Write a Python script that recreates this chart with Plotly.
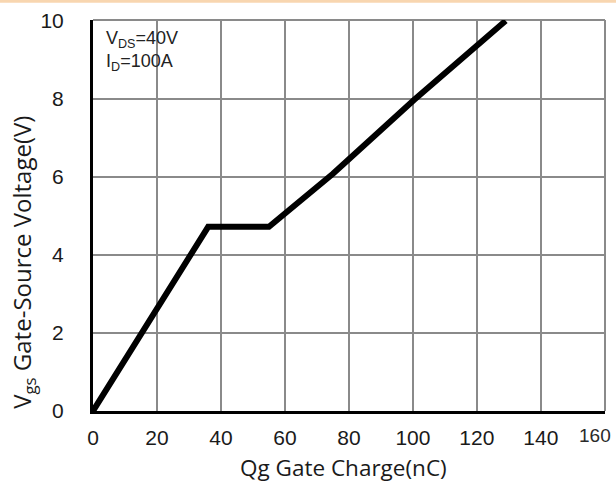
import plotly.graph_objects as go

# Data
qg_nc = [0, 36, 55, 75, 100.5, 129]
vgs_v = [0, 4.72, 4.72, 6.08, 7.98, 10.0]

x_ticks = [0, 20, 40, 60, 80, 100, 120, 140, 160]
y_ticks = [0, 2, 4, 6, 8, 10]

x_title = "Qg Gate Charge(nC)"
y_title = "V<sub>gs</sub> Gate-Source Voltage(V)"
cond_text = "V<sub>DS</sub>=40V<br>I<sub>D</sub>=100A"

fig = go.Figure()
fig.add_trace(go.Scatter(
    x=qg_nc, y=vgs_v, mode="lines",
    line=dict(color="black", width=6),
    showlegend=False, hoverinfo="skip",
))

grid_color = "#8a8a8a"
tick_font = dict(family="Liberation Sans", size=21, color="#1a1a1a")
last_tick_font = dict(family="Liberation Sans", size=19, color="#2a2a2a")

# last x tick label is placed by hand (reference shows it shifted left of the edge)
x_ticktext = [str(t) for t in x_ticks[:-1]] + [""]

fig.update_layout(
    width=616, height=497,
    margin=dict(l=93, r=11, t=20, b=86, autoexpand=False),
    paper_bgcolor="white", plot_bgcolor="white",
    xaxis=dict(
        range=[0, 160.05], tickvals=x_ticks, ticktext=x_ticktext,
        showgrid=True, gridcolor=grid_color, gridwidth=2,
        zeroline=False, showline=True, linecolor="black", linewidth=3,
        ticks="", tickfont=tick_font, ticklabelstandoff=6, automargin=False,
    ),
    yaxis=dict(
        range=[0, 10.02], tickvals=y_ticks, ticktext=[str(t) for t in y_ticks],
        showgrid=True, gridcolor=grid_color, gridwidth=2,
        zeroline=False, showline=True, linecolor="black", linewidth=3,
        ticks="", tickfont=tick_font, ticklabelstandoff=22, automargin=False,
    ),
    shapes=[
        dict(type="rect", xref="paper", yref="paper",
             x0=-0.2, x1=1.1, y0=1.044, y1=1.06,
             fillcolor="#F8D6B0", line=dict(width=0), layer="above"),
        dict(type="line", xref="paper", yref="paper", x0=0, x1=1, y0=1, y1=1,
             line=dict(color=grid_color, width=2), layer="below"),
        dict(type="line", xref="paper", yref="paper", x0=1, x1=1, y0=0, y1=1,
             line=dict(color=grid_color, width=2), layer="below"),
    ],
    annotations=[
        dict(text=cond_text, xref="paper", yref="paper", x=0.022, y=0.985,
             xanchor="left", yanchor="top", align="left", showarrow=False,
             font=dict(family="Liberation Sans", size=18, color="#222222")),
        dict(text=str(x_ticks[-1]), xref="x", yref="paper", x=x_ticks[-1],
             y=0, xanchor="right", yanchor="top", xshift=8, yshift=-12,
             showarrow=False, font=last_tick_font),
        dict(text=x_title, xref="paper", yref="paper", x=0.49, y=-0.1,
             xanchor="center", yanchor="top", showarrow=False,
             font=dict(family="Open Sans", size=22.5, color="#1a1a1a")),
        dict(text=y_title, xref="paper", yref="paper", x=-0.175, y=0.38,
             xanchor="left", yanchor="middle", textangle=-90, showarrow=False,
             font=dict(family="Open Sans", size=24, color="#1a1a1a")),
    ],
)

fig.write_html(
    "out.html",
    config={"displayModeBar": False},
    post_script="document.body.style.margin='0';document.body.style.overflow='hidden';",
)
